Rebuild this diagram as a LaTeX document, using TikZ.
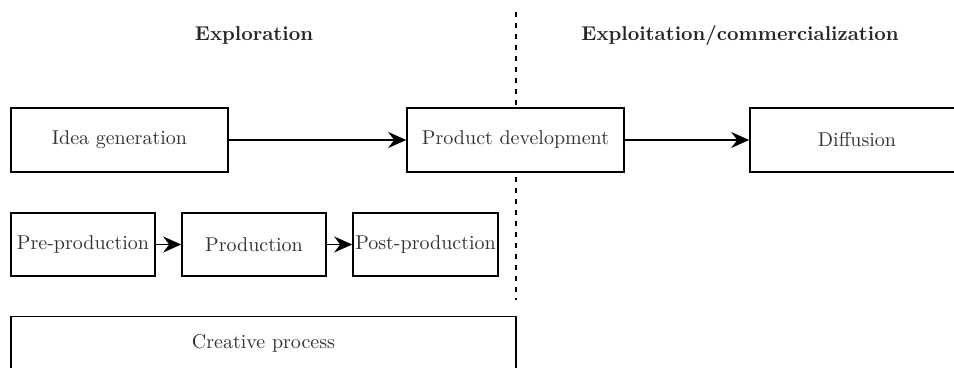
\documentclass[tikz,border=0pt]{standalone}
\usetikzlibrary{arrows.meta}

\begin{document}
\begin{tikzpicture}[x=0.5pt,y=-0.5pt,
  box/.style={draw, fill=white, line width=0.8pt, inner sep=0pt, text=black!80},
  arr/.style={-{Stealth[length=9pt,width=8pt,inset=3pt]}, line width=0.8pt}]
\useasboundingbox (0,0) rectangle (954,368);
\coordinate (divtop) at (516,12);
\coordinate (divbot) at (516,300);
\draw[dash pattern=on 2.5pt off 3pt, line width=0.9pt] (divtop) -- (divbot);
\node [font=\bfseries, text=black!85] (explo) at (254,36) {Exploration};
\node [font=\bfseries, text=black!85] (exploit) at (740,36) {Exploitation/commercialization};
\node [box, minimum width=108.5pt, minimum height=32pt] (idea) at (119.5,140) {Idea generation};
\node [box, minimum width=108.5pt, minimum height=32pt] (prod) at (515.5,140) {Product development};
\node [box, minimum width=107pt, minimum height=32pt] (diff) at (857,140) {Diffusion};
\node [box, minimum width=72pt, minimum height=31.5pt] (pre) at (83,244.5) {Pre-production};
\node [box, minimum width=72pt, minimum height=31.5pt] (production) at (254,244.5) {Production};
\node [box, minimum width=72.5pt, minimum height=31.5pt] (post) at (425.5,244.5) {Post-production};
\node [box, minimum width=252.5pt, minimum height=27pt] (creative) at (263.5,343.5) {Creative process};
\draw[arr] (idea) -- (prod);
\draw[arr] (prod) -- (diff);
\draw[arr] (pre) -- (production);
\draw[arr] (production) -- (post);
\end{tikzpicture}
\end{document}
